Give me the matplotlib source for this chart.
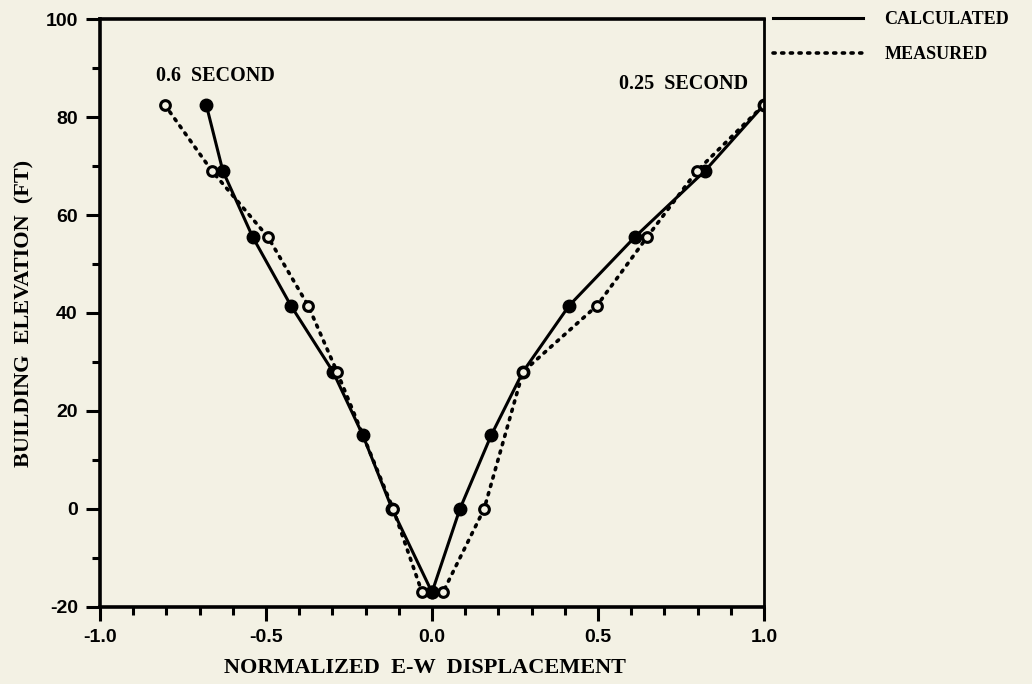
import numpy as np
import matplotlib.pyplot as plt
from matplotlib.ticker import MultipleLocator

# Floor elevations (ft)
elev = [82.5, 69, 55.5, 41.5, 28, 15, 0, -17]
elev_meas = [82.5, 69, 55.5, 41.5, 28, 0, -17]

# Normalized E-W displacement, 0.6 second mode
calc_06 = [-0.68, -0.63, -0.54, -0.425, -0.298, -0.208, -0.12, 0.0]
meas_06 = [-0.805, -0.663, -0.494, -0.373, -0.286, -0.117, -0.03]

# Normalized E-W displacement, 0.25 second mode
calc_025 = [1.0, 0.822, 0.611, 0.413, 0.274, 0.178, 0.084, 0.0]
meas_025 = [1.0, 0.798, 0.648, 0.497, 0.274, 0.157, 0.033]

plt.rcParams['axes.unicode_minus'] = False

bg = '#f3f1e4'
serif = ['Liberation Serif', 'DejaVu Serif']
sans = ['Liberation Sans', 'DejaVu Sans']

fig = plt.figure(figsize=(10.32, 6.84), dpi=100, facecolor=bg)
ax = fig.add_axes([0.0969, 0.1126, 0.6434, 0.8596], facecolor=bg)

solid_kw = dict(color='black', lw=2.2, marker='o', ms=9, mfc='black', mec='black')
dot_kw = dict(color='black', lw=2.6, ls=(0, (0.6, 1.8)), dash_capstyle='round',
              marker='o', ms=7, mfc=bg, mec='black', mew=2.2)

ax.plot(calc_06, elev, label='CALCULATED', **solid_kw)
ax.plot(calc_025, elev, **solid_kw)
ax.plot(meas_06 + meas_025[::-1], elev_meas + elev_meas[::-1], label='MEASURED', **dot_kw)

ax.set_xlim(-1.0, 1.0)
ax.set_ylim(-20, 100)
ax.xaxis.set_major_locator(MultipleLocator(0.5))
ax.xaxis.set_minor_locator(MultipleLocator(0.1))
ax.yaxis.set_major_locator(MultipleLocator(20))
ax.yaxis.set_minor_locator(MultipleLocator(10))
ax.xaxis.set_major_formatter(lambda v, p: f'{v:.1f}')
ax.tick_params(which='both', direction='out', width=2.2, colors='black')
ax.tick_params(which='major', length=10, labelsize=14, pad=6)
ax.tick_params(which='minor', length=6)
for lab in ax.get_xticklabels() + ax.get_yticklabels():
    lab.set_family(sans)
    lab.set_weight('bold')

for side in ['left', 'bottom', 'top']:
    ax.spines[side].set_linewidth(2.6)
ax.spines['right'].set_linewidth(2.0)

ax.set_xlabel('NORMALIZED  E-W  DISPLACEMENT', family=serif, weight='bold',
              fontsize=16, va='center')
ax.xaxis.set_label_coords(0.49, -0.104)
ax.set_ylabel('BUILDING  ELEVATION  (FT)', family=serif, weight='bold',
              fontsize=16, va='center', ha='center')
ax.yaxis.set_label_coords(-0.113, 0.5)

ax.text(-0.651, 88.4, '0.6  SECOND', family=serif, weight='bold', fontsize=14.5,
        ha='center', va='center')
ax.text(0.759, 86.7, '0.25  SECOND', family=serif, weight='bold', fontsize=14.5,
        ha='center', va='center')

leg = ax.legend(loc='upper left', bbox_to_anchor=(1.013, 1.013), frameon=False,
                borderpad=0, borderaxespad=0, handlelength=5.0, handletextpad=1.2,
                labelspacing=0.97, prop=dict(family=serif, weight='bold', size=13))
for h in leg.get_lines():
    h.set_marker('None')

fig.savefig('out.png', dpi=100, facecolor=bg)
